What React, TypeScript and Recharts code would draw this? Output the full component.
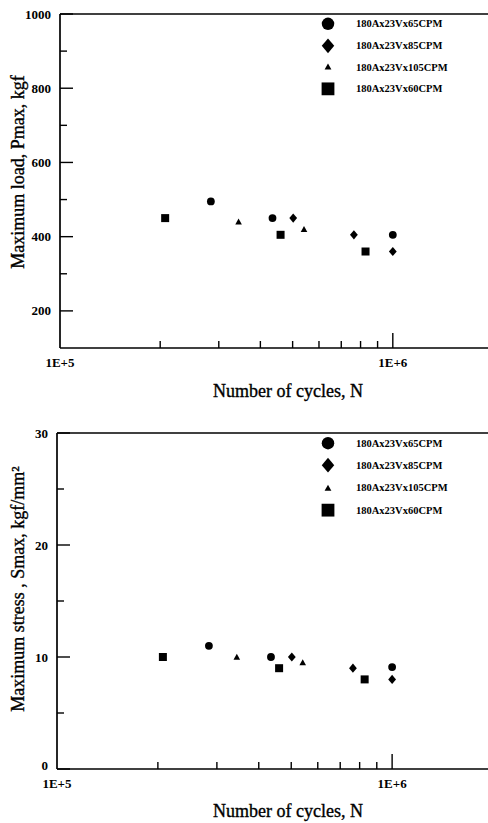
import { ScatterChart, Scatter, XAxis, YAxis, ReferenceLine, Legend, Label } from "recharts";

const FONT = "'Liberation Serif', 'Times New Roman', serif";

const seriesNames = ["180Ax23Vx65CPM", "180Ax23Vx85CPM", "180Ax23Vx105CPM", "180Ax23Vx60CPM"];
const seriesShapes = ["circle", "diamond", "triangle", "square"];

// number of cycles N for each series
const cycles65 = [2.84e5, 4.35e5, 1.0e6];
const cycles85 = [5.02e5, 7.64e5, 1.0e6];
const cycles105 = [3.44e5, 5.41e5];
const cycles60 = [2.07e5, 4.6e5, 8.28e5];

// maximum load, kgf
const load65 = [495, 450, 405];
const load85 = [450, 405, 360];
const load105 = [440, 420];
const load60 = [450, 405, 360];

// maximum stress, kgf/mm2
const stress65 = [11, 10, 9.1];
const stress85 = [10, 9, 8];
const stress105 = [10, 9.5];
const stress60 = [10, 9, 8];

const xTicks = [1e5, 2e5, 3e5, 4e5, 5e5, 6e5, 7e5, 8e5, 9e5, 1e6];
const xLabelValues = [1e5, 1e6];
const xLabelTexts = ["1E+5", "1E+6"];

const loadTicks = [200, 300, 400, 500, 600, 700, 800, 900, 1000];
const loadLabels = [200, 400, 600, 800, 1000];
const stressTicks = [0, 5, 10, 15, 20, 25, 30];
const stressLabels = [0, 10, 20, 30];

const build = (n: number[], v: number[]) => n.map((c, i) => ({ n: c, v: v[i] }));

function Marker({ kind, cx, cy, big }: { kind: string; cx: number; cy: number; big?: boolean }) {
  const k = big ? 1.6 : 1;
  if (kind === "circle") return <circle cx={cx} cy={cy} r={3.9 * k} fill="#000" />;
  if (kind === "square") {
    const h = 4 * k;
    return <rect x={cx - h} y={cy - h} width={2 * h} height={2 * h} fill="#000" />;
  }
  if (kind === "diamond") {
    const w = 3.9 * k;
    const h = 4.6 * k;
    return <path d={`M${cx},${cy - h}L${cx + w},${cy}L${cx},${cy + h}L${cx - w},${cy}Z`} fill="#000" />;
  }
  const t = big ? 3.4 : 3.3;
  return <path d={`M${cx},${cy - t}L${cx + t},${cy + t * 0.8}L${cx - t},${cy + t * 0.8}Z`} fill="#000" />;
}

const shapeFor = (kind: string) => (p: any) => <Marker kind={kind} cx={p.cx} cy={p.cy} />;

const tickText = { fontFamily: FONT, fontWeight: "bold" as const, fontSize: 13, fill: "#000" };

const makeXTick = (longLen: number, labelDy: number) => (props: any) => {
  const { x, y, payload } = props;
  const v = payload.value;
  const li = xLabelValues.indexOf(v);
  const len = v === 1e6 ? longLen : 7;
  return (
    <g>
      {v !== 1e5 && <line x1={x} x2={x} y1={y} y2={y - len} stroke="#000" strokeWidth={1.4} />}
      {li >= 0 && (
        <text x={x} y={y + labelDy} dy="0.35em" textAnchor="middle" style={tickText}>
          {xLabelTexts[li]}
        </text>
      )}
    </g>
  );
};

const makeYTick = (labels: number[], zeroLift: number) => (props: any) => {
  const { x, y, payload } = props;
  const v = payload.value;
  const labeled = labels.indexOf(v) >= 0;
  const ty = v === 0 ? y - zeroLift : y;
  return (
    <g>
      <line x1={x} x2={x + (labeled ? 13 : 7)} y1={y} y2={y} stroke="#000" strokeWidth={1.4} />
      {labeled && (
        <text x={x - 9} y={ty} dy="0.35em" textAnchor="end" style={tickText}>
          {v}
        </text>
      )}
    </g>
  );
};

const renderLegend = (rowH: number) => (props: any) => {
  const items = [...(props.payload || [])].sort(
    (a: any, b: any) => seriesNames.indexOf(a.value) - seriesNames.indexOf(b.value)
  );
  return (
    <div style={{ fontFamily: FONT, fontWeight: "bold", fontSize: 10.5, color: "#000" }}>
      {items.map((p: any) => {
        const kind = seriesShapes[seriesNames.indexOf(p.value)];
        return (
          <div key={p.value} style={{ display: "flex", alignItems: "center", height: rowH, whiteSpace: "nowrap" }}>
            <svg width={20} height={rowH} style={{ display: "block" }}>
              <Marker kind={kind} cx={10} cy={rowH / 2} big />
            </svg>
            <span style={{ marginLeft: 18 }}>{p.value}</span>
          </div>
        );
      })}
    </div>
  );
};

const titleStyle = { fontFamily: FONT, fontSize: 18, fill: "#000", stroke: "#000", strokeWidth: 0.35 };

function Panel({
  top, height, marginTop, yWidth, xHeight, yDomain, yTicks, yLabels, values, yTitle, xTitleY, yTitleY, legendTop, legendRow, labelDy, zeroLift,
}: any) {
  return (
    <div style={{ position: "absolute", left: 0, top }}>
      <ScatterChart width={488} height={height} margin={{ top: marginTop, right: -5, left: 0, bottom: 0 }}>
        <XAxis
          type="number"
          dataKey="n"
          scale="log"
          domain={[1e5, 2e6]}
          allowDataOverflow
          ticks={xTicks}
          interval={0}
          height={xHeight}
          tickSize={0}
          tickMargin={0}
          tickLine={false}
          axisLine={{ stroke: "#000", strokeWidth: 1.7 }}
          tick={makeXTick(15, labelDy)}
        >
          <Label
            content={() => (
              <text x={288} y={xTitleY} dy="0.35em" textAnchor="middle" style={titleStyle}>
                Number of cycles, N
              </text>
            )}
          />
        </XAxis>
        <YAxis
          type="number"
          dataKey="v"
          domain={yDomain}
          allowDataOverflow
          ticks={yTicks}
          interval={0}
          width={yWidth}
          tickSize={0}
          tickMargin={0}
          tickLine={false}
          axisLine={{ stroke: "#000", strokeWidth: 1.7 }}
          tick={makeYTick(yLabels, zeroLift)}
        >
          <Label
            content={() => (
              <text x={18} y={yTitleY} dy="0.35em" textAnchor="middle" transform={`rotate(-90, 18, ${yTitleY})`} style={titleStyle}>
                {yTitle}
              </text>
            )}
          />
        </YAxis>
        <ReferenceLine y={yDomain[1]} stroke="#000" strokeWidth={1.7} />
        <Legend
          layout="vertical"
          align="center"
          verticalAlign="middle"
          wrapperStyle={{ top: legendTop, left: 318, width: 170 }}
          content={renderLegend(legendRow)}
        />
        <Scatter name={seriesNames[0]} data={build(cycles65, values[0])} legendType="circle" fill="#000" shape={shapeFor("circle")} isAnimationActive={false} />
        <Scatter name={seriesNames[1]} data={build(cycles85, values[1])} legendType="diamond" fill="#000" shape={shapeFor("diamond")} isAnimationActive={false} />
        <Scatter name={seriesNames[2]} data={build(cycles105, values[2])} legendType="triangle" fill="#000" shape={shapeFor("triangle")} isAnimationActive={false} />
        <Scatter name={seriesNames[3]} data={build(cycles60, values[3])} legendType="square" fill="#000" shape={shapeFor("square")} isAnimationActive={false} />
      </ScatterChart>
    </div>
  );
}

export default function App() {
  return (
    <div style={{ position: "absolute", left: 0, top: 0, width: 488, height: 823, background: "#fff", overflow: "hidden" }}>
      <Panel
        top={0}
        height={410}
        marginTop={14}
        yWidth={60}
        xHeight={62}
        yDomain={[100, 1000]}
        yTicks={loadTicks}
        yLabels={loadLabels}
        values={[load65, load85, load105, load60]}
        yTitle="Maximum load, Pmax, kgf"
        xTitleY={391}
        yTitleY={172}
        legendTop={13}
        legendRow={21.7}
        labelDy={14}
        zeroLift={0}
      />
      <Panel
        top={410}
        height={413}
        marginTop={23}
        yWidth={57}
        xHeight={54}
        yDomain={[0, 30]}
        yTicks={stressTicks}
        yLabels={stressLabels}
        values={[stress65, stress85, stress105, stress60]}
        yTitle="Maximum stress , Smax, kgf/mm²"
        xTitleY={401}
        yTitleY={179}
        legendTop={22}
        legendRow={22.3}
        labelDy={14}
        zeroLift={4}
      />
    </div>
  );
}
